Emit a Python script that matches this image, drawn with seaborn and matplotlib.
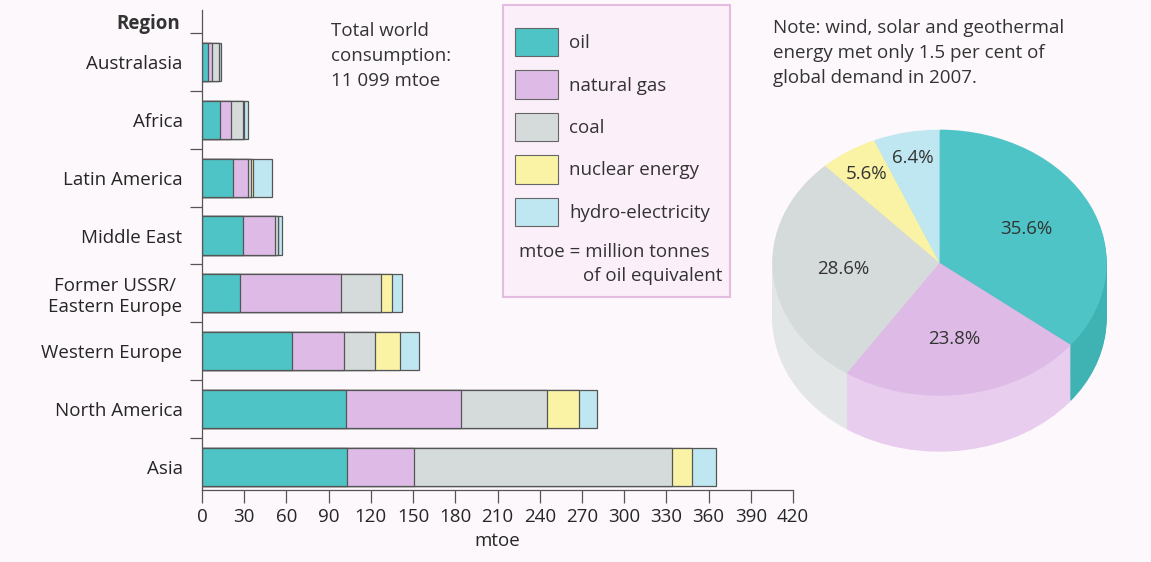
import numpy as np
import pandas as pd
import seaborn as sns
import matplotlib.pyplot as plt
from matplotlib.patches import Patch, Rectangle

# values (mtoe, axis units)
regions = ['Australasia', 'Africa', 'Latin America', 'Middle East',
           'Former USSR/\nEastern Europe', 'Western Europe', 'North America', 'Asia']
oil = [4, 13, 22, 29, 27, 64, 102, 103]
gas = [3, 7.5, 11, 23, 72, 37, 82, 48]
coal = [5, 8.5, 1.5, 2, 28, 22, 61, 183]
nuclear = [0, 1, 2, 0, 8, 18, 23, 14]
hydro = [1.5, 2.5, 13, 3, 7, 13, 13, 17]

fuels = ['oil', 'natural gas', 'coal', 'nuclear energy', 'hydro-electricity']
colors = ['#4fc4c6', '#ddbbe6', '#d5dada', '#faf3a6', '#bfe7f1']
side_colors = ['#3fb2b3', '#e8cdef', '#e2e6e6', '#f3eba0', '#b0dde8']

pie_share = [35.6, 23.8, 28.6, 5.6, 6.4]
pie_labels = ['35.6%', '23.8%', '28.6%', '5.6%', '6.4%']

xticks = list(range(0, 421, 30))

bg = '#fdf8fb'
sns.set_theme(style='ticks')
plt.rcParams['font.family'] = ['Open Sans', 'DejaVu Sans']
plt.rcParams['text.color'] = '#333333'
fs = 13.5

fig = plt.figure(figsize=(11.51, 5.62), dpi=100, facecolor=bg)

# legend box behind everything
fig.patches.append(Rectangle((503 / 1151, 1 - 297 / 562), 227 / 1151, 292 / 562,
                             transform=fig.transFigure, facecolor='#fbeff9',
                             edgecolor='#e2bde0', lw=1.5, zorder=0))

ax = fig.add_axes([202 / 1151, 1 - 490 / 562, 591 / 1151, 480 / 562])
ax.set_facecolor('none')

df = pd.DataFrame({'region': regions, 'oil': oil, 'natural gas': gas, 'coal': coal,
                   'nuclear energy': nuclear, 'hydro-electricity': hydro})
cum = df[fuels].cumsum(axis=1)

# stacked bars: draw the longest cumulative layer first
for i in range(len(fuels) - 1, -1, -1):
    sns.barplot(x=cum[fuels[i]], y=df['region'], orient='h', color=colors[i],
                saturation=1, width=0.66, edgecolor='#555555', linewidth=0.9, ax=ax)

ax.set_xlim(0, 420)
ax.set_ylim(7.4, -0.9)
ax.set_xticks(xticks)
ax.set_xticklabels([str(t) for t in xticks], fontsize=fs)
ax.set_yticks(range(len(regions)))
ax.set_yticklabels(regions, fontsize=fs, multialignment='center')
ax.set_yticks(np.arange(-0.5, 7.5, 1), minor=True)
ax.tick_params(axis='y', which='major', length=0, pad=14)
ax.tick_params(axis='y', which='minor', length=9, width=0.9, color='#555555', direction='out')
ax.tick_params(axis='x', length=9, width=0.9, color='#555555', direction='out', pad=4)
ax.set_xlabel('mtoe', fontsize=fs, labelpad=4)
ax.set_ylabel('')
sns.despine(ax=ax)
for s in ['left', 'bottom']:
    ax.spines[s].set_color('#555555')
    ax.spines[s].set_linewidth(0.9)

fig.text(180 / 1151, 1 - 24 / 562, 'Region', fontsize=fs, fontweight='bold',
         ha='right', va='center')
fig.text(331 / 1151, 1 - 56 / 562, 'Total world\nconsumption:\n11 099 mtoe',
         fontsize=fs, ha='left', va='center', linespacing=1.5)
fig.text(773 / 1151, 1 - 53 / 562,
         'Note: wind, solar and geothermal\nenergy met only 1.5 per cent of\nglobal demand in 2007.',
         fontsize=fs, ha='left', va='center', linespacing=1.5)

handles = [Patch(facecolor=c, edgecolor='#666666', lw=0.8) for c in colors]
fig.legend(handles, fuels, loc='upper left', bbox_to_anchor=(515 / 1151, 1 - 28 / 562),
           frameon=False, fontsize=fs, handlelength=2.3, handleheight=1.95,
           handletextpad=0.6, labelspacing=0.75, borderpad=0, borderaxespad=0)
fig.text(519 / 1151, 1 - 252 / 562, 'mtoe = million tonnes', fontsize=fs,
         ha='left', va='center')
fig.text(722 / 1151, 1 - 276 / 562, 'of oil equivalent', fontsize=fs,
         ha='right', va='center')

# 3D-looking pie: stacked side layers, then the top face
pax = fig.add_axes([764 / 1151, 1 - 457 / 562, 351 / 1151, 334 / 562])
pax.set_facecolor('none')
depth = 0.42
for off in np.linspace(depth, 0.01, 30):
    pax.pie(pie_share, colors=side_colors, startangle=90, counterclock=False,
            center=(0, -off), radius=1, frame=True,
            wedgeprops=dict(linewidth=0))
wedges, texts, autotexts = pax.pie(pie_share, colors=colors, startangle=90,
                                   counterclock=False, center=(0, 0), radius=1,
                                   frame=True, autopct='%1.1f%%', pctdistance=0.55,
                                   wedgeprops=dict(linewidth=0),
                                   textprops=dict(fontsize=fs, color='#333333'))
for w, t, lab in zip(wedges, autotexts, pie_labels):
    t.set_text(lab)
    ang = np.deg2rad((w.theta1 + w.theta2) / 2)
    r = 0.8 if w.theta2 - w.theta1 < 30 else 0.58
    t.set_position((r * np.cos(ang), r * np.sin(ang)))
pax.set_aspect('auto')
pax.set_xlim(-1.05, 1.05)
pax.set_ylim(-1 - depth - 0.04, 1.05)
pax.axis('off')

fig.savefig('out.png', dpi=100, facecolor=bg)
